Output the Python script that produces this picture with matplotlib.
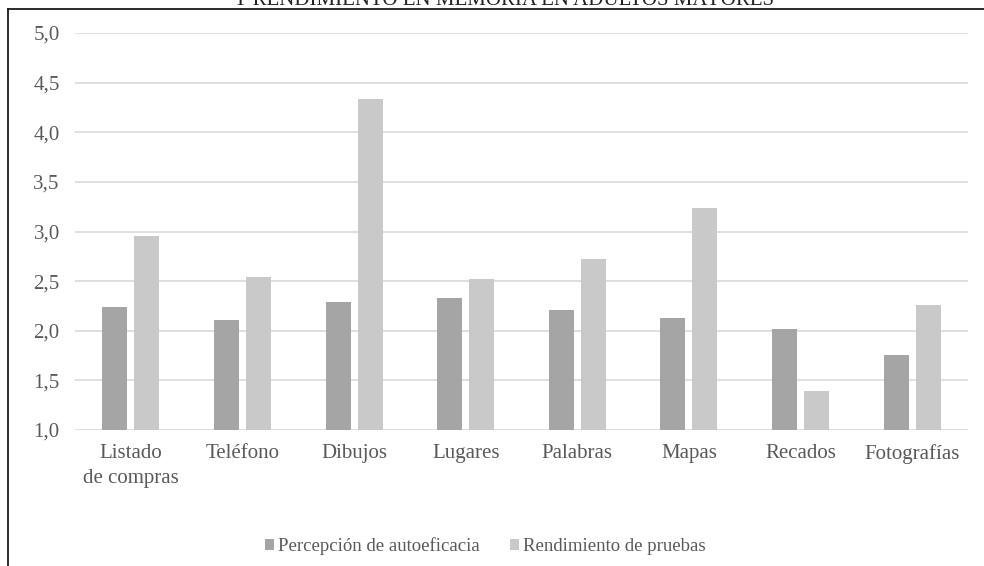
import matplotlib.pyplot as plt
import numpy as np
from matplotlib.lines import Line2D
from matplotlib.patches import Patch

plt.rcParams['font.family'] = ['Liberation Serif', 'DejaVu Serif']

categories = ["Listado\nde compras", "Teléfono", "Dibujos", "Lugares",
              "Palabras", "Mapas", "Recados", "Fotografías"]
autoeficacia = [2.24, 2.11, 2.29, 2.33, 2.21, 2.13, 2.02, 1.76]
rendimiento = [2.95, 2.54, 4.34, 2.52, 2.72, 3.24, 1.39, 2.26]
series_names = ["Percepción de autoeficacia", "Rendimiento de pruebas"]
yticks = [1.0, 1.5, 2.0, 2.5, 3.0, 3.5, 4.0, 4.5, 5.0]
title = "Y RENDIMIENTO EN MEMORIA EN ADULTOS MAYORES"

dark, light = "#a5a5a5", "#c9c9c9"
text_color = "#595959"

W, H = 984, 566
fig = plt.figure(figsize=(W / 100, H / 100), dpi=100)
ax = fig.add_axes([75 / W, 1 - 430 / H, (968 - 75) / W, (430 - 33) / H])

x = np.arange(len(categories))
bw = 0.224
off = (bw + 0.063) / 2
ax.bar(x - off, np.array(autoeficacia) - 1, bw, bottom=1, color=dark, zorder=3)
ax.bar(x + off, np.array(rendimiento) - 1, bw, bottom=1, color=light, zorder=3)

ax.set_xlim(-0.5, len(categories) - 0.5)
ax.set_ylim(1, 5)
ax.set_yticks(yticks)
ax.set_yticklabels([f"{v:.1f}".replace(".", ",") for v in yticks])
ax.set_xticks(x)
ax.set_xticklabels(categories, linespacing=1.45)
ax.tick_params(axis='both', length=0, labelsize=15, labelcolor=text_color)
ax.tick_params(axis='y', pad=11)
ax.tick_params(axis='x', pad=10)
for lbl in ax.get_xticklabels():
    lbl.set_verticalalignment('top')

ax.grid(axis='y', color="#d9d9d9", linewidth=1.2, zorder=0)
for s in ax.spines.values():
    s.set_visible(False)

handles = [Patch(facecolor=dark), Patch(facecolor=light)]
fig.legend(handles, series_names, loc='center', bbox_to_anchor=(485 / W, 1 - 546 / H),
           ncol=2, frameon=False, fontsize=13.5, labelcolor=text_color,
           handlelength=0.5, handleheight=0.5, handletextpad=0.2, columnspacing=1.6)

# page frame and the heading line cut by the top edge
fig.add_artist(Line2D([8 / W, 1], [1 - 8.5 / H] * 2, color="#1a1a1a", linewidth=1.3))
fig.add_artist(Line2D([7.5 / W] * 2, [0, 1 - 8.5 / H], color="#1a1a1a", linewidth=1.3))
fig.text(503 / W, 1 - 5 / H, title, ha='center', va='baseline', fontsize=15,
         color="#222222")

fig.savefig("out.png", dpi=100)
